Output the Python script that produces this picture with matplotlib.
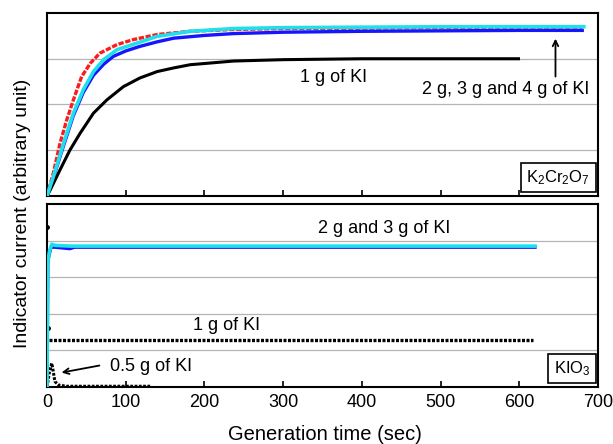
"""Indicator current vs generation time for K2Cr2O7 and KIO3 titrations."""

import numpy as np
import matplotlib.pyplot as plt

plt.rcParams["font.family"] = ["Liberation Sans", "DejaVu Sans"]
plt.rcParams["mathtext.fontset"] = "custom"
plt.rcParams["mathtext.rm"] = "Liberation Sans"
plt.rcParams["mathtext.it"] = "Liberation Sans"

# --- K2Cr2O7 panel ---
t_red = [0, 8, 16.5, 25, 33.5, 44, 55, 67, 89, 110, 140, 182, 237, 300, 400, 500, 600, 680]
y_red = [0, 0.5, 1.15, 1.66, 2.1, 2.61, 2.9, 3.12, 3.31, 3.42, 3.53, 3.6, 3.64,
         3.66, 3.67, 3.68, 3.68, 3.68]

t_blue = [0, 8, 21, 33.5, 46, 59, 72, 84, 100, 118, 140, 161, 200, 237, 300, 400, 500, 600, 680]
y_blue = [0, 0.4, 1.1, 1.76, 2.26, 2.64, 2.88, 3.05, 3.17, 3.27, 3.37, 3.45, 3.51, 3.55,
          3.58, 3.6, 3.61, 3.62, 3.62]

t_cyan = [0, 8, 21, 33.5, 46, 59, 72, 89, 114, 140, 182, 237, 300, 400, 500, 600, 682]
y_cyan = [0, 0.42, 1.15, 1.81, 2.32, 2.72, 2.98, 3.2, 3.34, 3.49, 3.6, 3.66, 3.68,
          3.69, 3.7, 3.7, 3.7]

t_1g = [0, 4, 16.5, 29, 42, 59, 76, 97, 118, 140, 161, 182, 203, 237, 300, 400, 500, 599]
y_1g = [0, 0.13, 0.57, 1.0, 1.37, 1.81, 2.1, 2.39, 2.58, 2.72, 2.8, 2.87, 2.9, 2.95,
        2.98, 3.0, 3.0, 3.0]

# --- KIO3 panel ---
t_k_cyan = [0, 1, 3, 6, 10, 30, 100, 300, 620]
y_k_cyan = [0, 3.4, 3.7, 3.9, 3.87, 3.85, 3.85, 3.85, 3.85]

t_k_blue = [0, 1, 2, 5, 10, 29, 35, 100, 300, 620]
y_k_blue = [0, 3.39, 3.55, 3.82, 3.82, 3.78, 3.82, 3.82, 3.82, 3.82]

t_k_1g = [0, 1, 2, 5, 50, 200, 400, 618]
y_k_1g = [4.37, 1.6, 1.28, 1.28, 1.28, 1.28, 1.28, 1.28]

t_k_05g = [0, 3, 6, 7, 8, 9, 10, 15, 25, 60, 131]
y_k_05g = [0, 0.4, 0.65, 0.54, 0.42, 0.28, 0.15, 0.05, 0.02, 0.02, 0.02]

RED, BLUE, CYAN = "#ff1a1a", "#1515ff", "#1fe0ea"

fig = plt.figure(figsize=(6.13, 4.44), dpi=100)
ax1 = fig.add_axes([0.0767, 0.5586, 0.8988, 0.4121])
ax2 = fig.add_axes([0.0767, 0.1284, 0.8988, 0.4121])

for ax, ymax, grid in ((ax1, 4, [1, 2, 3]), (ax2, 5, [1, 2, 3, 4])):
    ax.set_xlim(0, 700)
    ax.set_ylim(0, ymax)
    ax.set_xticks(np.arange(0, 701, 100))
    ax.set_yticks([])
    for g in grid:
        ax.axhline(g, color="#b4b4b4", lw=0.9, zorder=0)
    ax.tick_params(axis="x", direction="in", length=4, width=1.2, labelsize=13, pad=5)
    for sp in ax.spines.values():
        sp.set_linewidth(1.5)

ax1.tick_params(axis="x", labelbottom=False)

# top panel curves
ax1.plot(t_red, y_red, color=RED, lw=2.4, ls=(0, (1.6, 0.5)), zorder=3)
ax1.plot(t_blue, y_blue, color=BLUE, lw=2.4, zorder=4)
ax1.plot(t_cyan, y_cyan, color=CYAN, lw=2.6, zorder=5)
ax1.plot(t_1g, y_1g, color="black", lw=2.2, zorder=4)

ax1.text(364, 2.58, "1 g of KI", fontsize=13, ha="center", va="center")
ax1.text(583, 2.32, "2 g, 3 g and 4 g of KI", fontsize=13, ha="center", va="center")
ax1.annotate("", xy=(646, 3.5), xytext=(646, 2.55),
             arrowprops=dict(arrowstyle="->", color="black", lw=1.3))
ax1.text(0.986, 0.05, r"K$_2$Cr$_2$O$_7$", transform=ax1.transAxes, fontsize=12,
         ha="right", va="bottom",
         bbox=dict(boxstyle="square,pad=0.32", facecolor="white", edgecolor="black", lw=1.2))

# bottom panel curves
ax2.plot(t_k_blue, y_k_blue, color=BLUE, lw=2.4, zorder=4)
ax2.plot(t_k_cyan, y_k_cyan, color=CYAN, lw=2.6, zorder=5)
ax2.plot(t_k_1g[2:], y_k_1g[2:], color="black", lw=2.4, ls=(0, (0.9, 0.45)), zorder=4)
ax2.plot(t_k_1g[:2], y_k_1g[:2], ls="none", color="black", marker="o", ms=2.5, zorder=4)
ax2.plot(t_k_05g, y_k_05g, color="black", lw=2.2, ls=(0, (0.9, 0.5)), zorder=4)

ax2.text(429, 4.32, "2 g and 3 g of KI", fontsize=13, ha="center", va="center")
ax2.text(228, 1.69, "1 g of KI", fontsize=13, ha="center", va="center")
ax2.text(132, 0.55, "0.5 g of KI", fontsize=13, ha="center", va="center")
ax2.annotate("", xy=(15, 0.38), xytext=(70, 0.6),
             arrowprops=dict(arrowstyle="->", color="black", lw=1.3))
ax2.text(0.986, 0.05, r"KIO$_3$", transform=ax2.transAxes, fontsize=12,
         ha="right", va="bottom",
         bbox=dict(boxstyle="square,pad=0.32", facecolor="white", edgecolor="black", lw=1.2))

fig.text(0.036, 0.52, "Indicator current (arbitrary unit)", rotation=90,
         fontsize=14, ha="center", va="center")
fig.text(0.53, 0.022, "Generation time (sec)", fontsize=14.5, ha="center", va="center")

fig.savefig("out.png", dpi=100)
